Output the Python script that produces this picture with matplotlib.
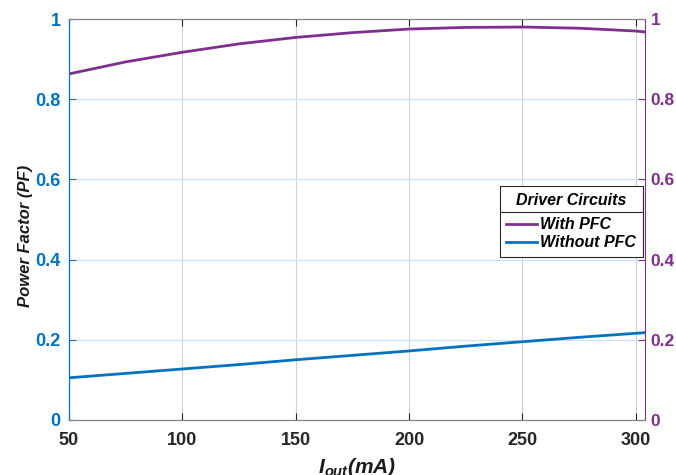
import matplotlib
matplotlib.use('Agg')
import matplotlib.pyplot as plt
from matplotlib.lines import Line2D

plt.rcParams['font.family'] = ['Liberation Sans', 'DejaVu Sans']
plt.rcParams['mathtext.fontset'] = 'custom'
plt.rcParams['mathtext.bfit'] = 'Liberation Sans:bold:italic'

# load current (mA) and power factor readings
i_out = [50, 75, 100, 125, 150, 175, 200, 225, 250, 275, 300, 305]
pf_with = [0.863, 0.893, 0.917, 0.938, 0.954, 0.966, 0.975, 0.979, 0.980, 0.977, 0.970, 0.967]
pf_without = [0.105, 0.116, 0.127, 0.138, 0.150, 0.161, 0.172, 0.184, 0.195, 0.206, 0.216, 0.218]
x_ticks = [50, 100, 150, 200, 250, 300]
y_ticks = [0, 0.2, 0.4, 0.6, 0.8, 1]
y_labels = ['0', '0.2', '0.4', '0.6', '0.8', '1']

blue = '#0072BD'
purple = '#7E2F8E'

fig = plt.figure(figsize=(6.76, 4.75), dpi=100)
ax = fig.add_axes([0.102, 0.116, 0.852, 0.844])
ax2 = ax.twinx()

ax.set_xlim(50, 304)
ax.set_ylim(0, 1)
ax2.set_ylim(0, 1)

# grid: vertical gray, horizontal tinted like left axis
for xv in x_ticks:
    ax.axvline(xv, color='#d0d0d0', lw=0.8, zorder=0)
for yv in y_ticks[1:-1]:
    ax.axhline(yv, color='#c9e0f0', lw=0.8, zorder=0)

l1, = ax.plot(i_out, pf_with, color=purple, lw=2, label='With PFC')
l2, = ax.plot(i_out, pf_without, color=blue, lw=2, label='Without PFC')

ax.set_xticks(x_ticks)
ax.set_xticklabels([str(v) for v in x_ticks])
ax.set_yticks(y_ticks)
ax.set_yticklabels(y_labels)
ax2.set_yticks(y_ticks)
ax2.set_yticklabels(y_labels)

ax.tick_params(axis='x', direction='in', top=True, colors='#262626', labelsize=13, length=5, pad=9)
ax.tick_params(axis='y', direction='in', colors=blue, labelsize=13, length=5, pad=6)
ax2.tick_params(axis='y', direction='in', colors=purple, labelsize=12.5, length=5, pad=4)
for t in ax.get_xticklabels() + ax.get_yticklabels() + ax2.get_yticklabels():
    t.set_fontweight('bold')

ax.spines['left'].set_color(blue)
ax2.spines['left'].set_color(blue)
ax2.spines['right'].set_color(purple)
ax.spines['right'].set_visible(False)
for a in (ax, ax2):
    a.spines['top'].set_color('#7a8490')
    a.spines['bottom'].set_color('#7a8490')

ax.set_ylabel('Power Factor (PF)', fontsize=12, fontweight='bold', style='italic', color='#1a1a1a', labelpad=6)
ax.yaxis.set_label_coords(-0.062, 0.46)
ax.set_xlabel(r'$\mathbfit{I}_{\mathbfit{out}}$(mA)', fontsize=15, fontweight='bold', style='italic',
              color='#1a1a1a')
ax.xaxis.set_label_coords(0.5, -0.09)
ax.xaxis.label.set_va('top')

leg = ax2.legend(handles=[l1, l2], title='Driver Circuits', loc='upper left',
                 bbox_to_anchor=(0.748, 0.583), frameon=True, fancybox=False,
                 edgecolor='#262626', framealpha=1, handlelength=1.9, handletextpad=0.25,
                 borderpad=0.4, labelspacing=0.2, borderaxespad=0,
                 prop={'weight': 'bold', 'style': 'italic', 'size': 11.5})
leg.get_title().set_fontweight('bold')
leg.get_title().set_fontstyle('italic')
leg.get_title().set_fontsize(11.5)
leg.get_frame().set_linewidth(0.8)
leg._legend_box.sep = 7

fig.canvas.draw()
# line under the legend title
fb = leg.get_window_extent()
tb = leg.get_title().get_window_extent()
hb = leg.get_texts()[0].get_window_extent()
ysep = (tb.y0 + hb.y1) / 2 / fig.bbox.height
fig.add_artist(Line2D([fb.x0 / fig.bbox.width, fb.x1 / fig.bbox.width], [ysep, ysep],
                      color='#262626', lw=0.8, transform=fig.transFigure))

fig.savefig('out.png', dpi=100)
